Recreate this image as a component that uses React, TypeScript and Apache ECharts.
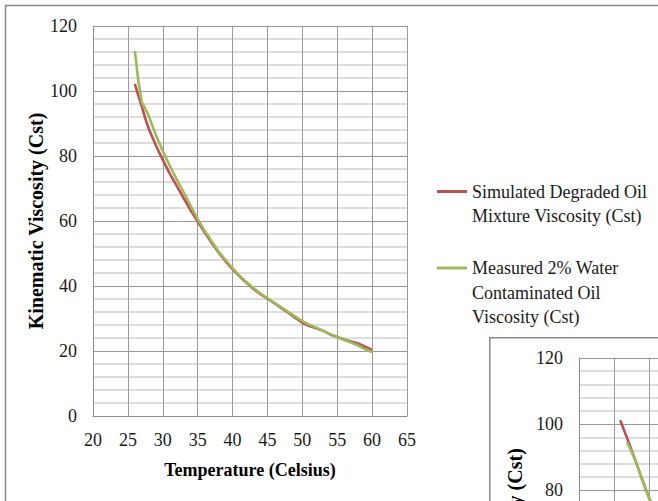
import React, { useEffect, useRef } from "react";
import * as echarts from "echarts";

// Main chart data (Temperature °C -> Kinematic viscosity cSt)
const simTemp = [26, 26.5, 27, 27.5, 28, 29, 30, 31, 32, 33, 34, 35, 36, 37, 38, 39, 40, 41, 42, 43, 44, 45, 46, 47, 48, 49, 50, 51, 52, 53, 54, 55, 56, 57, 58, 59, 60];
const simVisc = [102.2, 98.5, 95.2, 91.5, 88.3, 83.3, 78.8, 74.6, 70.8, 67, 63.3, 59.8, 56.5, 53.3, 50.3, 47.6, 45.2, 43, 41, 39.1, 37.5, 36.1, 34.7, 33.2, 31.8, 30.2, 28.7, 27.7, 27, 26.2, 25.1, 24.3, 23.5, 22.9, 22.3, 21.3, 20.3];
const measTemp = [26, 26.5, 27, 27.5, 28, 29, 30, 31, 32, 33, 34, 35, 36, 37, 38, 39, 40, 41, 42, 43, 44, 45, 46, 47, 48, 49, 50, 51, 52, 53, 54, 55, 56, 57, 58, 59, 60];
const measVisc = [112.3, 103, 96.5, 94.5, 92.3, 86.5, 81.5, 77, 72.8, 68.8, 64.6, 60.6, 57, 53.8, 50.6, 48, 45.5, 43.2, 41.2, 39.4, 37.7, 36.2, 34.8, 33.4, 32, 30.6, 29.2, 28.1, 27.2, 26.2, 25.2, 24.2, 23.4, 22.6, 21.7, 20.6, 19.6];

// Second (partially visible) chart data
const insetSimTemp = [25.9, 27, 28, 29, 30, 31, 32];
const insetSimVisc = [101.2, 95.2, 89.5, 83.6, 78, 72.6, 67.5];
const insetMeasTemp = [26.9, 28, 29, 30, 31, 32];
const insetMeasVisc = [94.5, 89.5, 83.6, 78, 72.6, 67.5];

const xTicks = [20, 25, 30, 35, 40, 45, 50, 55, 60, 65];
const yTicks = [0, 20, 40, 60, 80, 100, 120];

const seriesNames = [
  "Simulated Degraded Oil\nMixture Viscosity (Cst)",
  "Measured 2% Water\nContaminated Oil\nViscosity (Cst)",
];
const yTitle = "Kinematic Viscosity (Cst)";
const xTitle = "Temperature (Celsius)";

const RED = "#C0504D";
const GREEN = "#9BBB59";
const FONT = "'Liberation Serif', 'Times New Roman', serif";

const zip = (a: number[], b: number[]) => a.map((v, i) => [v, b[i]]);

function xAxisOpt() {
  return {
    type: "value",
    min: xTicks[0],
    max: xTicks[xTicks.length - 1],
    interval: xTicks[1] - xTicks[0],
    name: xTitle,
    nameLocation: "middle",
    nameGap: 45,
    nameTextStyle: { fontFamily: FONT, fontSize: 18, fontWeight: "bold", color: "#000" },
    axisLine: { show: true, lineStyle: { color: "#8c8c8c", width: 1 } },
    axisTick: { show: false },
    axisLabel: { fontFamily: FONT, fontSize: 18, color: "#1a1a1a", margin: 15 },
    splitLine: { show: true, lineStyle: { color: "#9a9a9a", width: 1 } },
  };
}

function yAxisOpt() {
  return {
    type: "value",
    min: yTicks[0],
    max: yTicks[yTicks.length - 1],
    interval: yTicks[1] - yTicks[0],
    name: yTitle,
    nameLocation: "middle",
    nameGap: 47.5,
    nameRotate: 90,
    nameTextStyle: { fontFamily: FONT, fontSize: 20, fontWeight: "bold", color: "#000" },
    axisLine: { show: true, lineStyle: { color: "#8c8c8c", width: 1 } },
    axisTick: { show: false },
    axisLabel: { fontFamily: FONT, fontSize: 18, color: "#1a1a1a", margin: 16 },
    splitLine: { show: true, lineStyle: { color: "#9a9a9a", width: 1 } },
    minorTick: { show: false, splitNumber: 5 },
    minorSplitLine: { show: true, lineStyle: { color: "#d2d2d2", width: 1.5 } },
  };
}

function lineSeries(name: string, xs: number[], ys: number[], color: string, z: number) {
  return {
    name,
    type: "line",
    data: zip(xs, ys),
    showSymbol: false,
    symbol: "none",
    lineStyle: { color, width: 2.6 },
    itemStyle: { color },
    z,
  };
}

export default function App() {
  const mainRef = useRef<HTMLDivElement>(null);
  const insetRef = useRef<HTMLDivElement>(null);
  useEffect(() => {
    if (!mainRef.current || !insetRef.current) return;
    const chart = echarts.init(mainRef.current, undefined, { renderer: "svg" });
    const inset = echarts.init(insetRef.current, undefined, { renderer: "svg" });
    const L = 24.5;
    const H = 60;
    const b1 = H / 2 - L / 2;
    const b2 = H / 2 - L;
    const icon = (c: number) =>
      `path://M0,${c - 1.5} L30,${c - 1.5} L30,${c + 1.5} L0,${c + 1.5} Z M0,0 L0,${H} Z`;
    chart.setOption({
      animation: false,
      backgroundColor: "#ffffff",
      graphic: [
        {
          type: "rect",
          z: -10,
          shape: { x: 5.5, y: 5.5, width: 800, height: 700 },
          style: { fill: "#ffffff", stroke: "#8a8a8a", lineWidth: 1.5 },
        },
      ],
      grid: { left: 93, top: 26, width: 314, height: 390 },
      xAxis: xAxisOpt(),
      yAxis: yAxisOpt(),
      legend: {
        left: 437,
        top: 191.5 - b1,
        orient: "vertical",
        padding: 0,
        itemWidth: 30,
        itemHeight: H,
        itemGap: 22,
        itemStyle: { borderWidth: 0 },
        textStyle: { fontFamily: FONT, fontSize: 18, lineHeight: L, color: "#1a1a1a" },
        data: [
          { name: seriesNames[0], icon: icon(b1) },
          { name: seriesNames[1], icon: icon(b2) },
        ],
      },
      series: [
        lineSeries(seriesNames[0], simTemp, simVisc, RED, 3),
        lineSeries(seriesNames[1], measTemp, measVisc, GREEN, 4),
      ],
    });
    inset.setOption({
      animation: false,
      backgroundColor: "#ffffff",
      graphic: [
        {
          type: "rect",
          z: -10,
          shape: { x: 0.75, y: 0.75, width: 800, height: 800 },
          style: { fill: "#ffffff", stroke: "#8a8a8a", lineWidth: 1.5 },
        },
      ],
      grid: { left: 90, top: 21, width: 314, height: 397 },
      xAxis: xAxisOpt(),
      yAxis: yAxisOpt(),
      series: [
        lineSeries(seriesNames[0], insetSimTemp, insetSimVisc, RED, 3),
        lineSeries(seriesNames[1], insetMeasTemp, insetMeasVisc, GREEN, 4),
      ],
    });
    return () => {
      chart.dispose();
      inset.dispose();
    };
  }, []);
  return (
    <div
      style={{
        position: "absolute",
        left: 0,
        top: 0,
        width: 658,
        height: 501,
        overflow: "hidden",
        background: "#fff",
      }}
    >
      <div
        ref={mainRef}
        style={{ position: "absolute", left: 0, top: 0, width: 658, height: 501 }}
      />
      <div
        ref={insetRef}
        style={{ position: "absolute", left: 489, top: 337, width: 460, height: 500 }}
      />
    </div>
  );
}
